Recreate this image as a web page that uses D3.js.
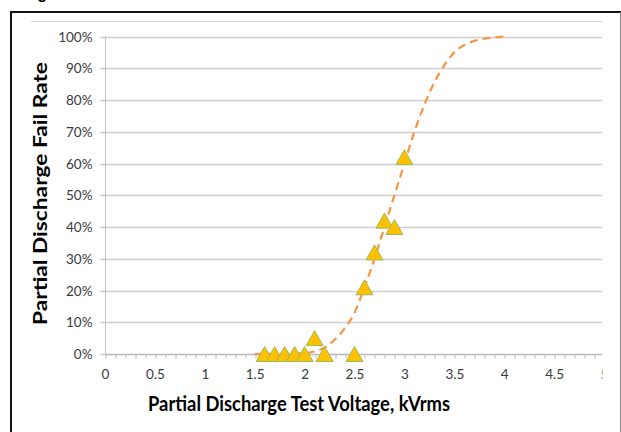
<!DOCTYPE html>
<html>
<head>
<meta charset="utf-8">
<script src="https://cdn.jsdelivr.net/npm/d3@7"></script>
<style>
  html, body { margin: 0; padding: 0; background: #fff; }
  svg { display: block; }
</style>
</head>
<body>
<svg id="chart" width="621" height="432"></svg>
<script>
// Measured test points: test voltage (kVrms) and observed fail rate
const testVoltage = [1.6, 1.7, 1.8, 1.9, 2.0, 2.1, 2.2, 2.5, 2.6, 2.7, 2.8, 2.9, 3.0];
const failRate    = [0, 0, 0, 0, 0, 0.05, 0, 0, 0.21, 0.32, 0.42, 0.40, 0.62];

// Fitted cumulative fail-rate curve (dashed trend)
const fitVoltage = [1.5, 1.8, 2.0, 2.1, 2.2, 2.3, 2.4, 2.5, 2.6, 2.7, 2.8, 2.9, 3.0, 3.1, 3.2, 3.3, 3.4, 3.5, 3.6, 3.7, 3.8, 3.9, 4.0];
const fitRate    = [0, 0.0005, 0.003, 0.008, 0.02, 0.045, 0.08, 0.13, 0.21, 0.30, 0.40, 0.50, 0.60, 0.70, 0.785, 0.855, 0.91, 0.95, 0.973, 0.986, 0.993, 0.997, 1.0];

// Axis ticks
const xTickValues = [0, 0.5, 1, 1.5, 2, 2.5, 3, 3.5, 4, 4.5, 5];
const xTickLabels = ["0", "0.5", "1", "1.5", "2", "2.5", "3", "3.5", "4", "4.5", "5"];
const yTickValues = [0, 0.1, 0.2, 0.3, 0.4, 0.5, 0.6, 0.7, 0.8, 0.9, 1.0];
const yTickLabels = ["0%", "10%", "20%", "30%", "40%", "50%", "60%", "70%", "80%", "90%", "100%"];

const xTitle = "Partial Discharge Test Voltage, kVrms";
const yTitle = "Partial Discharge Fail Rate";

const svg = d3.select("#chart");
const plotLeft = 105, plotRight = 602, plotTop = 36.5, plotBottom = 354;

const x = d3.scaleLinear().domain([0, 5]).range([plotLeft, 604]);
const y = d3.scaleLinear().domain([0, 1]).range([plotBottom, plotTop]);

const labelFont = "Lato, 'Liberation Sans', sans-serif";

// Caption fragment above the frame
svg.append("text")
  .attr("x", 23).attr("y", -0.6)
  .attr("font-family", "'Liberation Sans', sans-serif")
  .attr("font-size", 16).attr("font-weight", "bold")
  .attr("fill", "#000")
  .text("Figure");

// Outer frame
svg.append("line").attr("x1", 11).attr("x2", 11).attr("y1", 11).attr("y2", 432)
  .attr("stroke", "#111").attr("stroke-width", 2);
svg.append("line").attr("x1", 10).attr("x2", 621).attr("y1", 12).attr("y2", 12)
  .attr("stroke", "#111").attr("stroke-width", 2);
svg.append("line").attr("x1", 620.5).attr("x2", 620.5).attr("y1", 12).attr("y2", 432)
  .attr("stroke", "#8a8a8a").attr("stroke-width", 1);

// Chart-area top rule
svg.append("line").attr("x1", 31).attr("x2", plotRight).attr("y1", 21.5).attr("y2", 21.5)
  .attr("stroke", "#d9d9d9").attr("stroke-width", 1);

// Horizontal gridlines
svg.append("g").selectAll("line")
  .data(yTickValues.filter(d => d > 0))
  .join("line")
  .attr("x1", plotLeft).attr("x2", plotRight)
  .attr("y1", d => Math.round(y(d)) + 0.5).attr("y2", d => Math.round(y(d)) + 0.5)
  .attr("stroke", "#cfcfcf").attr("stroke-width", 1.3);

// Y axis with labels
const yAxis = svg.append("g")
  .attr("transform", `translate(${plotLeft + 0.5},0)`)
  .call(d3.axisLeft(y).tickValues(yTickValues)
    .tickFormat((d, i) => yTickLabels[i]).tickSize(5).tickPadding(8))
  .call(g => g.selectAll(".tick").attr("transform", d => `translate(0,${Math.round(y(d)) + 0.5})`));
yAxis.select(".domain").attr("stroke", "#c4c4c4").attr("d", `M0,${plotTop}V${plotBottom}`);
yAxis.selectAll(".tick line").attr("stroke", "#c4c4c4").attr("stroke-width", 1.3);
yAxis.selectAll(".tick text")
  .attr("font-family", labelFont).attr("font-size", 13.5).attr("fill", "#3a3a3a");

// X axis: minor tick marks every 0.1 kV
const minorTicks = d3.range(0, 51).map(i => i / 10);
const xMinor = svg.append("g")
  .attr("transform", `translate(0,${plotBottom + 0.5})`)
  .call(d3.axisBottom(x).tickValues(minorTicks).tickFormat("").tickSize(4).tickSizeOuter(0));
xMinor.select(".domain").attr("stroke", "#b8b8b8").attr("stroke-width", 1.3)
  .attr("d", `M${plotLeft},0H${plotRight}`);
xMinor.selectAll(".tick line").attr("stroke", "#b8b8b8")
  .attr("transform", d => `translate(${Math.round(x(d)) + 0.5 - x(d)},0)`);
xMinor.selectAll(".tick").filter(d => x(d) > plotRight + 0.5).remove();

// X axis labels, clipped at the chart edge
svg.append("clipPath").attr("id", "xclip")
  .append("rect").attr("x", 0).attr("y", 0).attr("width", 602.5).attr("height", 432);
const xLabels = svg.append("g")
  .attr("clip-path", "url(#xclip)")
  .append("g")
  .attr("transform", `translate(0,${plotBottom})`)
  .call(d3.axisBottom(x).tickValues(xTickValues)
    .tickFormat((d, i) => xTickLabels[i]).tickSize(0).tickPadding(15.5));
xLabels.select(".domain").remove();
xLabels.selectAll(".tick text")
  .attr("font-family", labelFont).attr("font-size", 13.5).attr("fill", "#3a3a3a");

// Dashed fitted curve
const fitPoints = fitVoltage.map((v, i) => [v, fitRate[i]]);
svg.append("path")
  .datum(fitPoints)
  .attr("fill", "none")
  .attr("stroke", "#f79646")
  .attr("stroke-width", 2.25)
  .attr("stroke-dasharray", "8,5")
  .attr("d", d3.line().x(d => x(d[0])).y(d => y(d[1])).curve(d3.curveMonotoneX));

// Triangle markers for measured points
const triW = 17, triH = 15;
svg.append("g").selectAll("path")
  .data(testVoltage.map((v, i) => [v, failRate[i]]))
  .join("path")
  .attr("transform", d => `translate(${x(d[0])},${y(d[1])})`)
  .attr("d", `M0,${-triH / 2}L${triW / 2},${triH / 2}L${-triW / 2},${triH / 2}Z`)
  .attr("fill", "#ffc000")
  .attr("stroke", "#9bbb59")
  .attr("stroke-width", 1);

// Axis titles
svg.append("text")
  .attr("x", 299).attr("y", 411)
  .attr("text-anchor", "middle")
  .attr("font-family", labelFont).attr("font-weight", "bold").attr("font-size", 20)
  .attr("fill", "#000")
  .attr("textLength", 302).attr("lengthAdjust", "spacingAndGlyphs")
  .text(xTitle);

svg.append("text")
  .attr("transform", "translate(47,193.5) rotate(-90)")
  .attr("text-anchor", "middle")
  .attr("font-family", labelFont).attr("font-weight", "bold").attr("font-size", 19)
  .attr("fill", "#000")
  .attr("textLength", 263).attr("lengthAdjust", "spacingAndGlyphs")
  .text(yTitle);
</script>
</body>
</html>
